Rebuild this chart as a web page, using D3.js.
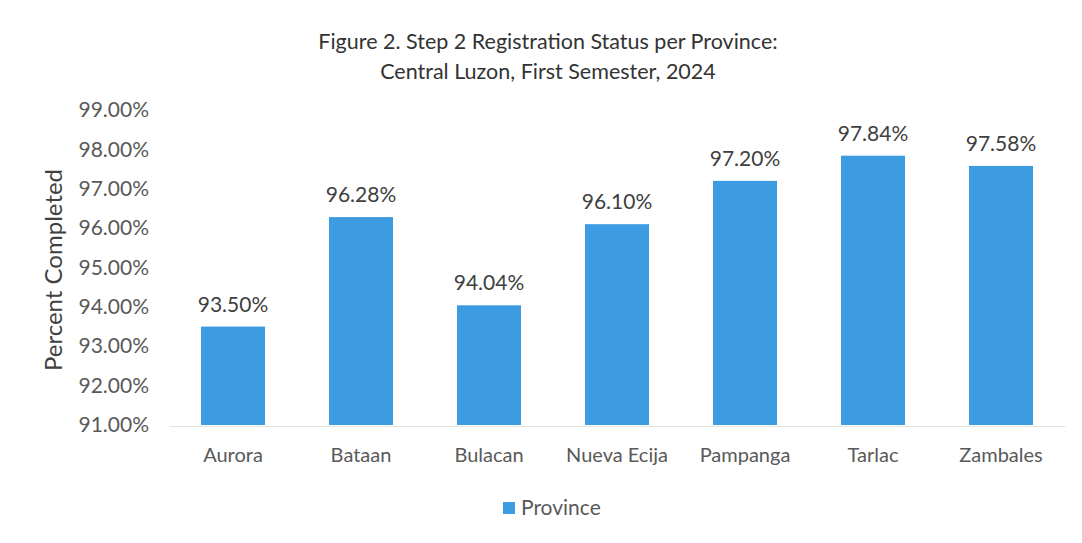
<!DOCTYPE html>
<html>
<head>
<meta charset="utf-8">
<script src="https://cdn.jsdelivr.net/npm/d3@7"></script>
<style>
  body { margin: 0; background: #fff; }
  svg text { font-family: Lato, "Open Sans", sans-serif; }
</style>
</head>
<body>
<div class="chart"></div>
<script>
var provinces = ["Aurora", "Bataan", "Bulacan", "Nueva Ecija", "Pampanga", "Tarlac", "Zambales"];
var completed = [93.50, 96.28, 94.04, 96.10, 97.20, 97.84, 97.58];
var yTicks = [91, 92, 93, 94, 95, 96, 97, 98, 99];

var data = provinces.map((p, i) => ({ name: p, value: completed[i] }));

var svg = d3.select(".chart")
  .append("svg")
  .attr("width", 1082)
  .attr("height", 543);

var xScale = d3.scaleBand()
  .domain(provinces)
  .range([169, 1065])
  .paddingInner(0.5)
  .paddingOuter(0.25);

var yScale = d3.scaleLinear()
  .domain([91, 99])
  .range([425, 110]);

// title
svg.append("text")
  .attr("x", 548).attr("y", 49)
  .attr("text-anchor", "middle")
  .attr("font-size", 21.5).attr("fill", "#333")
  .text("Figure 2. Step 2 Registration Status per Province:");
svg.append("text")
  .attr("x", 548).attr("y", 79)
  .attr("text-anchor", "middle")
  .attr("font-size", 21.5).attr("fill", "#333")
  .text("Central Luzon, First Semester, 2024");

// y axis (labels only)
var yAxis = svg.append("g")
  .attr("transform", "translate(149,0)")
  .call(d3.axisLeft(yScale).tickValues(yTicks).tickSize(0).tickPadding(0)
    .tickFormat(d => d.toFixed(2) + "%"));
yAxis.select(".domain").remove();
yAxis.selectAll("text")
  .attr("font-size", 21).attr("fill", "#595959")
  .style("font-family", "Lato, 'Open Sans', sans-serif");

svg.append("text")
  .attr("transform", "translate(62,270) rotate(-90)")
  .attr("text-anchor", "middle")
  .attr("font-size", 24).attr("fill", "#404040")
  .text("Percent Completed");

// bars
svg.selectAll("rect.bar")
  .data(data)
  .enter()
  .append("rect")
  .attr("class", "bar")
  .attr("x", d => xScale(d.name))
  .attr("width", xScale.bandwidth())
  .attr("y", d => yScale(d.value))
  .attr("height", d => yScale(91) - yScale(d.value))
  .attr("fill", "#3d9be1");

// value labels
svg.selectAll("text.val")
  .data(data)
  .enter()
  .append("text")
  .attr("class", "val")
  .attr("x", d => xScale(d.name) + xScale.bandwidth() / 2)
  .attr("y", d => yScale(d.value) - 15)
  .attr("text-anchor", "middle")
  .attr("font-size", 21).attr("fill", "#404040")
  .text(d => d.value.toFixed(2) + "%");

// x axis
var xAxis = svg.append("g")
  .attr("transform", "translate(0,426)")
  .call(d3.axisBottom(xScale).tickSize(0).tickPadding(22));
xAxis.select(".domain").attr("stroke", "#e3e3e3");
xAxis.selectAll("text")
  .attr("font-size", 20).attr("fill", "#595959")
  .style("font-family", "Lato, 'Open Sans', sans-serif");

// legend
svg.append("rect")
  .attr("x", 503).attr("y", 502)
  .attr("width", 12).attr("height", 12)
  .attr("fill", "#3d9be1");
svg.append("text")
  .attr("x", 521).attr("y", 515)
  .attr("font-size", 21).attr("fill", "#595959")
  .text("Province");
</script>
</body>
</html>
